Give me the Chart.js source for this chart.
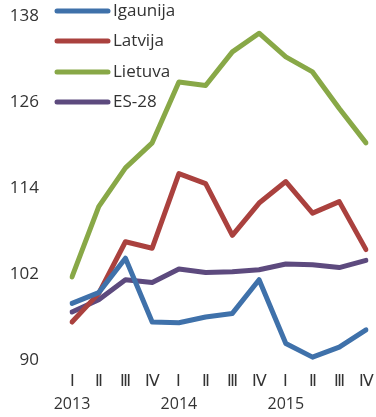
<!DOCTYPE html>
<html>
<head>
<meta charset="utf-8">
<script src="https://cdn.jsdelivr.net/npm/chart.js@4/dist/chart.umd.min.js"></script>
<style>
  html, body { margin: 0; padding: 0; background: #fff; }
  #wrap { width: 376px; height: 417px; }
</style>
</head>
<body>
<div id="wrap"><canvas id="chart" width="376" height="417"></canvas></div>
<script>
// quarters with the year under the first one
var quarters = [['Ⅰ', '2013'], 'Ⅱ', 'Ⅲ', 'Ⅳ', ['Ⅰ', '2014'], 'Ⅱ', 'Ⅲ', 'Ⅳ', ['Ⅰ', '2015'], 'Ⅱ', 'Ⅲ', 'Ⅳ'];
var seriesNames = ['Igaunija', 'Latvija', 'Lietuva', 'ES-28'];

var igaunija = [97.9, 99.4, 104.2, 95.3, 95.2, 96.0, 96.5, 101.2, 92.3, 90.4, 91.8, 94.2];
var latvija  = [95.3, 99.3, 106.5, 105.6, 116.0, 114.6, 107.4, 111.9, 114.9, 110.5, 112.1, 105.4];
var lietuva  = [101.6, 111.4, 116.8, 120.3, 128.8, 128.3, 133.0, 135.6, 132.3, 130.2, 125.1, 120.3];
var es28     = [96.7, 98.4, 101.2, 100.8, 102.7, 102.2, 102.3, 102.6, 103.4, 103.3, 102.9, 103.9];

var yMin = 90, yMax = 138, yStep = 12;

var colors = ['#3f71aa', '#aa413e', '#88a847', '#5d4a7e'];
var font = '"Open Sans", "Noto Sans", sans-serif';

function makeSet(i, values) {
    return {
        label: seriesNames[i],
        data: values,
        borderColor: colors[i],
        backgroundColor: colors[i],
        borderWidth: 5,
        borderCapStyle: 'round',
        borderJoinStyle: 'round',
        pointRadius: 0,
        pointHoverRadius: 0,
        tension: 0,
        fill: false
    };
}

// legend drawn on the canvas, top left over the plot
var lineLegend = {
    id: 'lineLegend',
    afterDraw: function(chart) {
        var ctx = chart.ctx;
        var rows = [11, 41, 72, 102];
        ctx.save();
        chart.data.datasets.forEach(function(ds, i) {
            var y = rows[i];
            ctx.strokeStyle = ds.borderColor;
            ctx.lineWidth = 5;
            ctx.lineCap = 'round';
            ctx.beginPath();
            ctx.moveTo(57, y);
            ctx.lineTo(108, y);
            ctx.stroke();
            ctx.fillStyle = '#333';
            ctx.font = '17px ' + font;
            ctx.textBaseline = 'middle';
            ctx.textAlign = 'left';
            ctx.fillText(ds.label, 113, y);
        });
        ctx.restore();
    }
};

var chart = new Chart(document.getElementById('chart'), {
    type: 'line',
    data: {
        labels: quarters,
        datasets: [
            makeSet(0, igaunija),
            makeSet(1, latvija),
            makeSet(2, lietuva),
            makeSet(3, es28)
        ]
    },
    options: {
        responsive: false,
        animation: false,
        layout: { padding: { left: 0, right: 10, top: 16, bottom: 0 } },
        plugins: {
            legend: { display: false },
            tooltip: { enabled: false }
        },
        scales: {
            x: {
                offset: false,
                grid: { display: false, drawTicks: false },
                border: { display: false },
                afterFit: function(scale) {
                    scale.height = 57;
                    scale.paddingLeft = 0;
                    scale.paddingRight = 0;
                },
                ticks: {
                    color: '#333',
                    font: { size: 16, family: font, lineHeight: 1.45 },
                    padding: 10,
                    maxRotation: 0,
                    autoSkip: false
                }
            },
            y: {
                min: yMin,
                max: yMax,
                grid: { display: false, drawTicks: false },
                border: { display: false },
                afterFit: function(scale) {
                    scale.width = 72;
                    scale.paddingTop = 0;
                    scale.paddingBottom = 0;
                },
                ticks: {
                    stepSize: yStep,
                    color: '#333',
                    font: { size: 17, family: font },
                    padding: 33
                }
            }
        }
    },
    plugins: [lineLegend]
});
</script>
</body>
</html>
